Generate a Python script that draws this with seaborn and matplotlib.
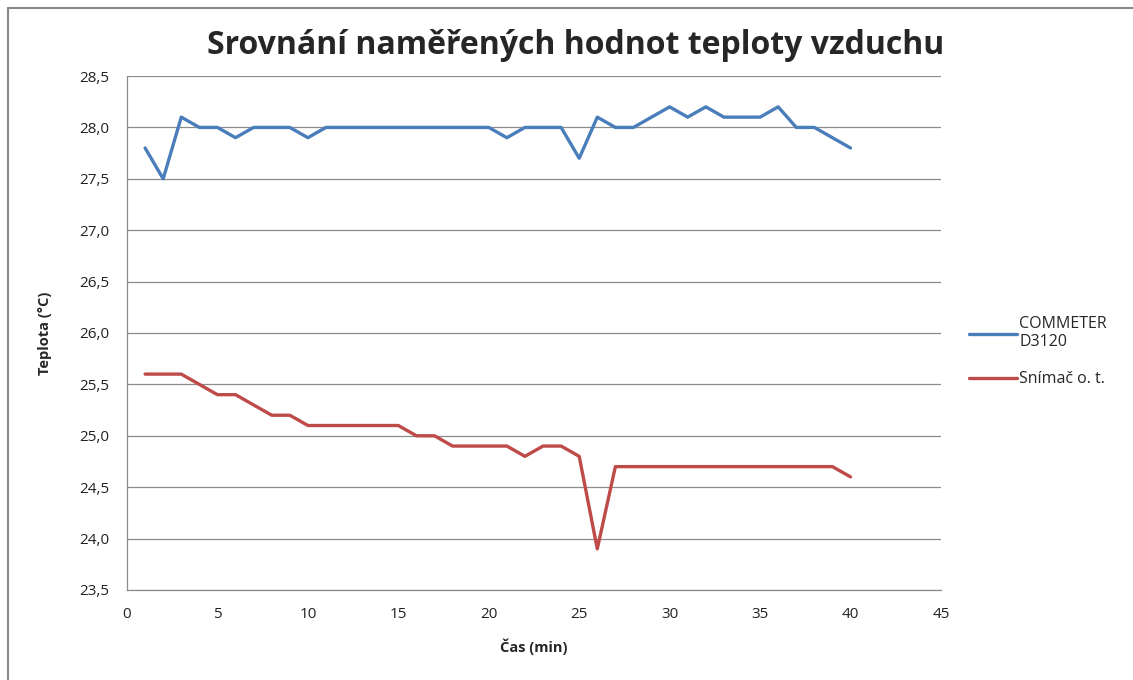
import matplotlib
matplotlib.use("Agg")
import matplotlib.pyplot as plt
import matplotlib.ticker as mticker
from matplotlib.lines import Line2D
import seaborn as sns
import pandas as pd

# --- DATA ---
time_min = list(range(1, 41))
commeter = [27.8, 27.5, 28.1, 28.0, 28.0, 27.9, 28.0, 28.0, 28.0, 27.9,
            28.0, 28.0, 28.0, 28.0, 28.0, 28.0, 28.0, 28.0, 28.0, 28.0,
            27.9, 28.0, 28.0, 28.0, 27.7, 28.1, 28.0, 28.0, 28.1, 28.2,
            28.1, 28.2, 28.1, 28.1, 28.1, 28.2, 28.0, 28.0, 27.9, 27.8]
snimac = [25.6, 25.6, 25.6, 25.5, 25.4, 25.4, 25.3, 25.2, 25.2, 25.1,
          25.1, 25.1, 25.1, 25.1, 25.1, 25.0, 25.0, 24.9, 24.9, 24.9,
          24.9, 24.8, 24.9, 24.9, 24.8, 23.9, 24.7, 24.7, 24.7, 24.7,
          24.7, 24.7, 24.7, 24.7, 24.7, 24.7, 24.7, 24.7, 24.7, 24.6]
series_names = ["COMMETER\nD3120", "Snímač o. t."]
colors = ["#4A7EBB", "#BE4B48"]

df = pd.DataFrame({
    "Čas": time_min * 2,
    "Teplota": commeter + snimac,
    "Přístroj": [series_names[0]] * len(time_min) + [series_names[1]] * len(time_min),
})

sns.set_theme(style="white")
plt.rcParams["font.family"] = ["Open Sans", "DejaVu Sans"]

fig = plt.figure(figsize=(11.33, 6.8), dpi=100)
ax = fig.add_axes([0.1121, 0.1324, 0.7184, 0.7558])

sns.lineplot(data=df, x="Čas", y="Teplota", hue="Přístroj", palette=colors,
             linewidth=2.4, ax=ax, legend=False)

ax.set_xlim(0, 45)
ax.set_ylim(23.5, 28.5)
ax.xaxis.set_major_locator(mticker.MultipleLocator(5))
ax.yaxis.set_major_locator(mticker.MultipleLocator(0.5))
ax.yaxis.set_major_formatter(mticker.FuncFormatter(lambda v, p: f"{v:.1f}".replace(".", ",")))
ax.grid(axis="y", color="#8C8C8C", linewidth=0.9)
ax.set_axisbelow(True)
for s in ["top", "right"]:
    ax.spines[s].set_visible(False)
for s in ["left", "bottom"]:
    ax.spines[s].set_color("#8C8C8C")
    ax.spines[s].set_linewidth(0.9)
ax.tick_params(axis="both", direction="out", length=7, width=0.9, color="#8C8C8C",
               labelsize=11, labelcolor="#222222", pad=6)
ax.tick_params(axis="x", pad=5)

ax.set_xlabel("Čas (min)", fontsize=10.5, fontweight="bold", labelpad=12)
ax.set_ylabel("Teplota (°C)", fontsize=10.5, fontweight="bold", labelpad=19)
fig.text(0.508, 0.933, "Srovnání naměřených hodnot teploty vzduchu",
         ha="center", va="center", fontsize=23, fontweight="bold")

handles = [Line2D([], [], color=c, linewidth=2.4) for c in colors]
fig.legend(handles, series_names, loc="center left", bbox_to_anchor=(0.843, 0.483),
           frameon=False, fontsize=11.5, handlelength=3.0, handletextpad=0.1,
           labelspacing=1.3)

# chart area border
fig.add_artist(Line2D([8 / 1133, 1.0], [1 - 7.5 / 680] * 2, color="#888888", linewidth=1.5))
fig.add_artist(Line2D([8 / 1133] * 2, [0.0, 1 - 7.5 / 680], color="#888888", linewidth=1.5))

fig.savefig("out.png", dpi=100)
